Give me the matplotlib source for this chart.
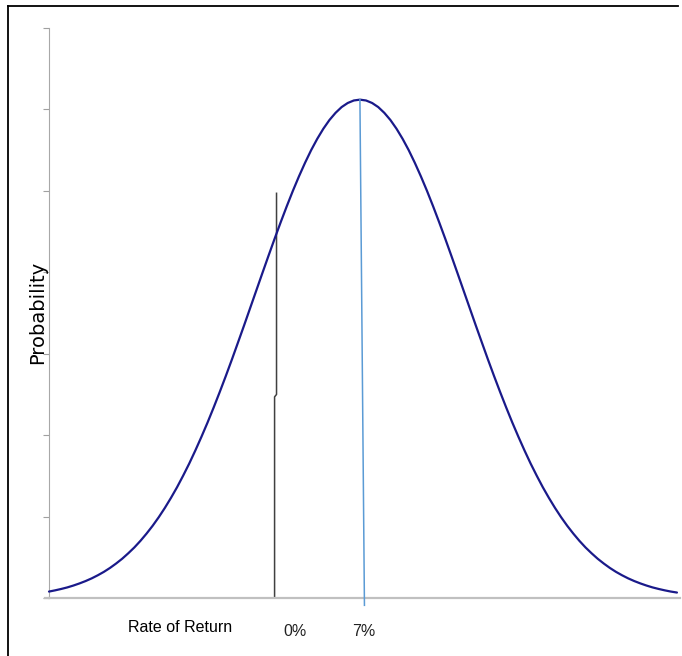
import matplotlib
matplotlib.use("Agg")
import numpy as np
import matplotlib.pyplot as plt
from matplotlib import font_manager
from matplotlib.lines import Line2D

# ---- data ----
# rate of return grid (%), from -18.5 to 33 in half-percent steps
returns_pct = np.arange(-18.5, 33.01, 0.5)
# probability height in y-axis units (axis 0..7), one value per grid point
probability = [
    0.079, 0.094, 0.111, 0.130, 0.153, 0.179, 0.208, 0.241, 0.279, 0.321,
    0.369, 0.423, 0.482, 0.549, 0.621, 0.702, 0.791, 0.887, 0.992, 1.106,
    1.229, 1.360, 1.502, 1.651, 1.811, 1.979, 2.154, 2.338, 2.529, 2.726,
    2.929, 3.138, 3.348, 3.562, 3.776, 3.990, 4.202, 4.411, 4.614, 4.811,
    5.000, 5.178, 5.345, 5.500, 5.639, 5.763, 5.870, 5.958, 6.029, 6.079,
    6.110, 6.120, 6.110, 6.079, 6.029, 5.958, 5.870, 5.763, 5.639, 5.500,
    5.345, 5.178, 5.000, 4.811, 4.614, 4.411, 4.202, 3.990, 3.776, 3.562,
    3.348, 3.138, 2.929, 2.726, 2.529, 2.338, 2.154, 1.979, 1.811, 1.651,
    1.502, 1.360, 1.229, 1.106, 0.992, 0.887, 0.791, 0.702, 0.621, 0.549,
    0.482, 0.423, 0.369, 0.321, 0.279, 0.241, 0.208, 0.179, 0.153, 0.130,
    0.111, 0.094, 0.079, 0.067,
]
zero_line_x = [0.0, 0.0, 0.16, 0.16]
zero_line_y = [0.0, 2.47, 2.50, 4.97]
mean_line_x = [7.0, 7.37]
mean_line_y = [6.12, -0.09]
y_ticks = [0, 1, 2, 3, 4, 5, 6, 7]
x_title = "Rate of Return"
y_title = "Probability"
zero_label = "0%"
mean_label = "7%"

names = {f.name for f in font_manager.fontManager.ttflist}
if "Liberation Sans Narrow" in names:
    narrow_font, narrow_size = "Liberation Sans Narrow", 12.6
else:
    narrow_font, narrow_size = "Liberation Sans", 11.5

W, H = 682, 656
fig = plt.figure(figsize=(W / 100, H / 100), dpi=100)
ax = fig.add_axes([49 / W, 1 - 598 / H, (680 - 49) / W, (598 - 28) / H])

ax.plot(returns_pct, probability, color="#1a1a8a", lw=1.6, solid_capstyle="round",
        clip_on=False, zorder=3)
ax.plot(zero_line_x, zero_line_y, color="#404040", lw=1.1, clip_on=False, zorder=2)
ax.plot(mean_line_x, mean_line_y, color="#5b9bd5", lw=1.1, clip_on=False, zorder=4)

ax.set_xlim(-18.5, 33.25)
ax.set_ylim(0, 7)
ax.set_yticks(y_ticks)
ax.set_yticklabels([])
ax.set_xticks([])
ax.tick_params(axis="y", direction="out", length=4, width=0.8, color="#a0a0a0")
for s in ("top", "right"):
    ax.spines[s].set_visible(False)
ax.spines["left"].set_color("#a8a8a8")
ax.spines["left"].set_linewidth(0.8)
ax.spines["bottom"].set_color("#c0c0c0")
ax.spines["bottom"].set_linewidth(1.6)

# x axis line extends slightly left of the y axis
fig.add_artist(Line2D([45 / W, 49 / W], [1 - 598 / H, 1 - 598 / H],
                      color="#c0c0c0", lw=1.6))

# outer frame lines (top and left)
fig.add_artist(Line2D([8 / W, 678 / W], [1 - 6 / H, 1 - 6 / H], color="black", lw=1.3))
fig.add_artist(Line2D([8 / W, 8 / W], [1 - 6 / H, 0], color="black", lw=1.3))

fig.text(38 / W, 1 - 312 / H, y_title, rotation=90, ha="center", va="center",
         fontsize=14, family="DejaVu Sans", color="black")
fig.text(180 / W, 1 - 627 / H, x_title, ha="center", va="center",
         fontsize=narrow_size, family=narrow_font, color="black")
fig.text(295 / W, 1 - 631 / H, zero_label, ha="center", va="center",
         fontsize=narrow_size, family=narrow_font, color="#222222")
fig.text(364 / W, 1 - 632 / H, mean_label, ha="center", va="center",
         fontsize=narrow_size, family=narrow_font, color="#222222")

fig.savefig("out.png", dpi=100)
